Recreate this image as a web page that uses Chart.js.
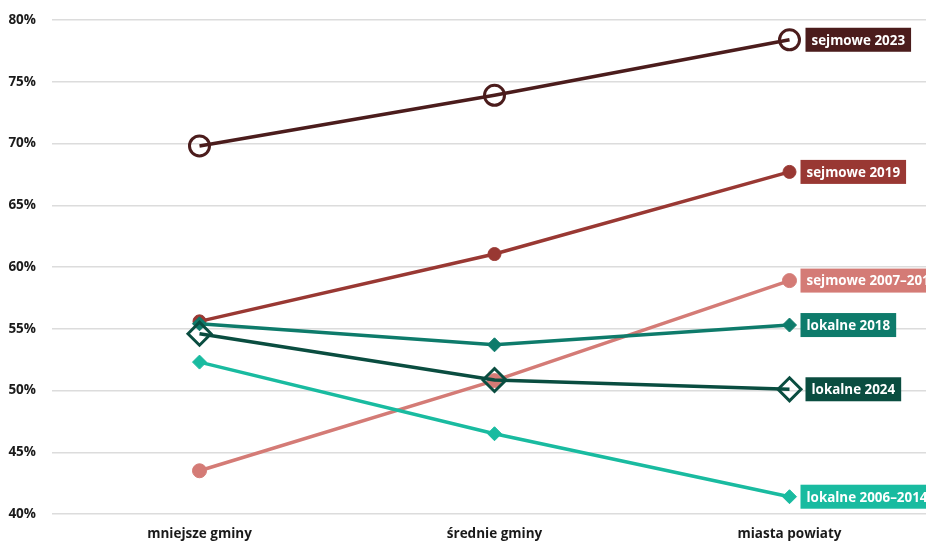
<!DOCTYPE html>
<html>
<head>
<meta charset="utf-8">
<script src="https://cdn.jsdelivr.net/npm/chart.js@4"></script>
<style>
  html, body { margin: 0; padding: 0; background: #fff; overflow: hidden; }
  #wrap { width: 926px; height: 541px; position: relative; }
</style>
</head>
<body>
<div id="wrap"><canvas id="chart"></canvas></div>
<script>
const categories = ['mniejsze gminy', 'średnie gminy', 'miasta powiaty'];
const yTicks = [40, 45, 50, 55, 60, 65, 70, 75, 80];

const seriesNames = ['sejmowe 2023', 'sejmowe 2019', 'sejmowe 2007–2011', 'lokalne 2018', 'lokalne 2024', 'lokalne 2006–2014'];
const sejmowe2023 = [69.8, 73.9, 78.4];
const sejmowe2019 = [55.6, 61.05, 67.7];
const sejmowe2007 = [43.5, 50.8, 58.9];
const lokalne2018 = [55.4, 53.7, 55.3];
const lokalne2024 = [54.6, 50.85, 50.1];
const lokalne2006 = [52.3, 46.5, 41.4];

const FONT = '"Open Sans", "Noto Sans", sans-serif';

const styles = [
  { color: '#4b1c1c', shape: 'circle', radius: 10, open: true, offset: 16 },
  { color: '#993833', shape: 'circle', radius: 6.5, open: false, offset: 11 },
  { color: '#d47b76', shape: 'circle', radius: 7, open: false, offset: 11 },
  { color: '#0e7b6b', shape: 'rectRot', radius: 7, open: false, offset: 11 },
  { color: '#0a4d40', shape: 'rectRot', radius: 11.5, open: true, offset: 16 },
  { color: '#19bba0', shape: 'rectRot', radius: 7, open: false, offset: 11 },
];
const values = [sejmowe2023, sejmowe2019, sejmowe2007, lokalne2018, lokalne2024, lokalne2006];

// chart area spans x=52..926, category spacing 295px
const AXIS_W = 52;
const STEP = 295;
const xMax = -0.5 + (926 - AXIS_W) / STEP;

const endLabels = {
  id: 'endLabels',
  afterDatasetsDraw(chart) {
    const { ctx } = chart;
    ctx.save();
    ctx.font = 'bold 13.4px ' + FONT;
    ctx.textBaseline = 'middle';
    chart.data.datasets.forEach((ds, i) => {
      const meta = chart.getDatasetMeta(i);
      const p = meta.data[meta.data.length - 1];
      const st = styles[i];
      const x = p.x + st.offset;
      const w = ctx.measureText(ds.label).width + 12;
      const h = 24;
      ctx.fillStyle = st.color;
      ctx.fillRect(x, p.y - h / 2, w, h);
      ctx.fillStyle = '#fff';
      ctx.fillText(ds.label, x + 6, p.y + 1);
    });
    ctx.restore();
  }
};

const datasets = values.map((vals, i) => {
  const st = styles[i];
  return {
    label: seriesNames[i],
    data: vals.map((v, j) => ({ x: j, y: v })),
    borderColor: st.color,
    borderWidth: 3.5,
    pointStyle: st.shape,
    pointRadius: st.radius,
    pointHoverRadius: st.radius,
    pointBackgroundColor: st.open ? 'rgba(0,0,0,0)' : st.color,
    pointBorderColor: st.color,
    pointBorderWidth: st.open ? 3 : 1,
    tension: 0,
    order: 10 - i,
    clip: false,
  };
});

new Chart(document.getElementById('chart'), {
  type: 'line',
  plugins: [endLabels],
  data: { datasets },
  options: {
    responsive: true,
    maintainAspectRatio: false,
    animation: false,
    layout: { autoPadding: false, padding: { top: 20, right: 0, left: 0, bottom: 0 } },
    plugins: { legend: { display: false }, tooltip: { enabled: false } },
    scales: {
      x: {
        type: 'linear',
        min: -0.5,
        max: xMax,
        afterBuildTicks(scale) { scale.ticks = [0, 1, 2].map(v => ({ value: v })); },
        afterFit(scale) {
          scale.height = 27;
          scale.paddingLeft = 0;
          scale.paddingRight = 0;
        },
        grid: { display: false, drawTicks: false },
        border: { display: false },
        ticks: {
          padding: 12,
          maxRotation: 0,
          color: '#1a1a1a',
          font: { family: FONT, size: 13.5, weight: 'bold' },
          callback: v => categories[v] ?? '',
        },
      },
      y: {
        min: 40,
        max: 80,
        afterBuildTicks(scale) { scale.ticks = yTicks.map(v => ({ value: v })); },
        afterFit(scale) {
          scale.width = AXIS_W;
          scale.paddingTop = 0;
          scale.paddingBottom = 0;
        },
        grid: { color: '#dcdcdc', lineWidth: 1.5, drawTicks: false },
        border: { display: false },
        ticks: {
          padding: 16,
          color: '#1a1a1a',
          font: { family: FONT, size: 13.5, weight: 'bold' },
          callback: v => v + '%',
        },
      },
    },
  },
});
</script>
</body>
</html>
